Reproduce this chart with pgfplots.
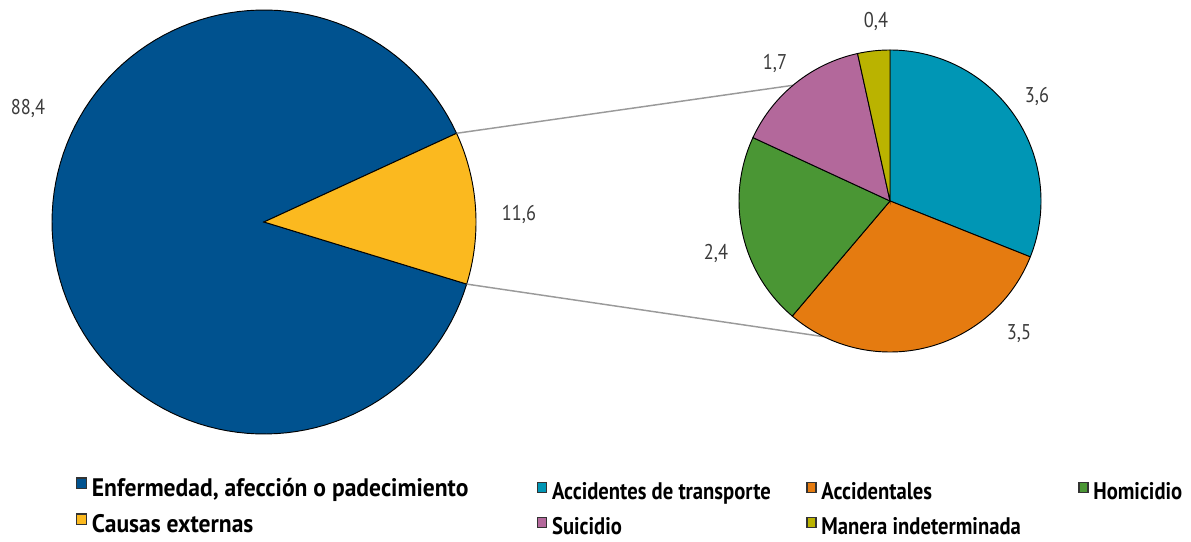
\documentclass[border=0pt]{standalone}
\usepackage{fontspec}
\setmainfont{PT Sans}[FakeStretch=0.86]
\newfontfamily\legAfont{PT Sans}[FakeStretch=0.93]
\usepackage{pgfplots}
\pgfplotsset{compat=1.18}

\definecolor{cBlue}{HTML}{00528F}
\definecolor{cYellow}{HTML}{FBB91F}
\definecolor{cTeal}{HTML}{0096B5}
\definecolor{cOrange}{HTML}{E57B10}
\definecolor{cGreen}{HTML}{4A9634}
\definecolor{cPurple}{HTML}{B3689B}
\definecolor{cOlive}{HTML}{BAB300}
\definecolor{labgray}{HTML}{3A3A3A}
\definecolor{linkgray}{HTML}{9A9A9A}

% data (percent)
\def\vEnf{88.4}
\def\vCau{11.6}
\def\vTra{3.6}
\def\vAcc{3.5}
\def\vHom{2.4}
\def\vSui{1.7}
\def\vInd{0.4}

% big pie angles
\pgfmathsetmacro\bA{3.85+\vCau*1.8}
\pgfmathsetmacro\bB{\bA-\vCau*3.6}
\pgfmathsetmacro\bC{\bA+\vEnf*3.6}
% small pie angles (clockwise from 90)
\pgfmathsetmacro\k{360/\vCau}
\pgfmathsetmacro\sA{90}
\pgfmathsetmacro\sB{\sA-\vTra*\k}
\pgfmathsetmacro\sC{\sB-\vAcc*\k}
\pgfmathsetmacro\sD{\sC-\vHom*\k}
\pgfmathsetmacro\sE{\sD-\vSui*\k}
\pgfmathsetmacro\sF{\sE-\vInd*\k}

% slice: color, cx, cy, r, lower angle, upper angle
\newcommand{\slice}[6]{%
  \addplot[draw=black, line width=0.7pt, fill=#1, domain=#5:#6, samples=120]
    ({#2+#4*cos(x)},{#3+#4*sin(x)}) -- (#2,#3) -- cycle;
}

\pgfplotsset{
  pieaxis/.style={
    scale only axis, width=893.25pt, height=406.5pt,
    xmin=0, xmax=1191, ymin=0, ymax=542,
    hide axis, clip=false, at={(0,0)}, anchor=south west,
    legend cell align=left,
    legend style={draw=none, fill=none, inner sep=0pt, outer sep=0pt,
      column sep=0pt,
      nodes={inner ysep=0pt, text height=16.5pt, text depth=3.5pt},
      /tikz/every even column/.style={column sep=0pt},
      /tikz/every odd column/.style={column sep=0pt}},
  },
}
\tikzset{
  lab/.style={text=labgray, inner sep=0pt, text height=11.2pt, text depth=0pt,
    font=\fontsize{16}{18}\selectfont},
}

\begin{document}
\begin{tikzpicture}
\begin{axis}[pieaxis, legend columns=1,
  legend image code/.code={\draw[#1, draw=black!80, line width=1.1pt] (0.55pt,-0.3pt) rectangle (8.0pt,7.9pt);},
  legend style={at={(axis cs:76,67)}, anchor=north west, row sep=7pt,
    font=\legAfont\bfseries\fontsize{19}{21}\selectfont,
    nodes={inner xsep=3.4pt}}]
  \path (axis cs:0,0) rectangle (axis cs:1191,542);
  \slice{cBlue}{264}{320}{212}{\bA}{\bC}
  \addlegendentry{Enfermedad, afección o padecimiento}
  \slice{cYellow}{264}{320}{212}{\bB}{\bA}
  \addlegendentry{Causas externas}
  \addplot[forget plot, draw=linkgray, line width=1.1pt] coordinates {(456.6,408.7) (792.9,456.7)};
  \addplot[forget plot, draw=linkgray, line width=1.1pt] coordinates {(466.7,257.9) (823.8,205.3)};
  \node[lab] at (axis cs:28,435) {88,4};
  \node[lab] at (axis cs:519,329) {11,6};
  \node[lab] at (axis cs:1037,447) {3,6};
  \node[lab] at (axis cs:1019,210) {3,5};
  \node[lab] at (axis cs:716,290) {2,4};
  \node[lab] at (axis cs:775,480) {1,7};
  \node[lab] at (axis cs:876,522) {0,4};
\end{axis}
\begin{axis}[pieaxis, legend columns=3,
  legend image code/.code={\draw[#1, draw=black!80, line width=1.1pt] (0.55pt,-1.6pt) rectangle (7.2pt,5.9pt);},
  legend style={at={(axis cs:537,65)}, anchor=north west, row sep=6.25pt,
    font=\bfseries\fontsize{18}{20}\selectfont,
    nodes={inner xsep=3.6pt}}]
  \slice{cTeal}{890}{341}{151}{\sB}{\sA}
  \addlegendentry{\makebox[187pt][l]{Accidentes de transporte}}
  \slice{cOrange}{890}{341}{151}{\sC}{\sB}
  \addlegendentry{\makebox[189pt][l]{Accidentales}}
  \slice{cGreen}{890}{341}{151}{\sD}{\sC}
  \addlegendentry{Homicidio}
  \slice{cPurple}{890}{341}{151}{\sE}{\sD}
  \addlegendentry{\makebox[187pt][l]{Suicidio}}
  \slice{cOlive}{890}{341}{151}{\sF}{\sE}
  \addlegendentry{\makebox[189pt][l]{Manera indeterminada}}
\end{axis}
\end{tikzpicture}
\end{document}
